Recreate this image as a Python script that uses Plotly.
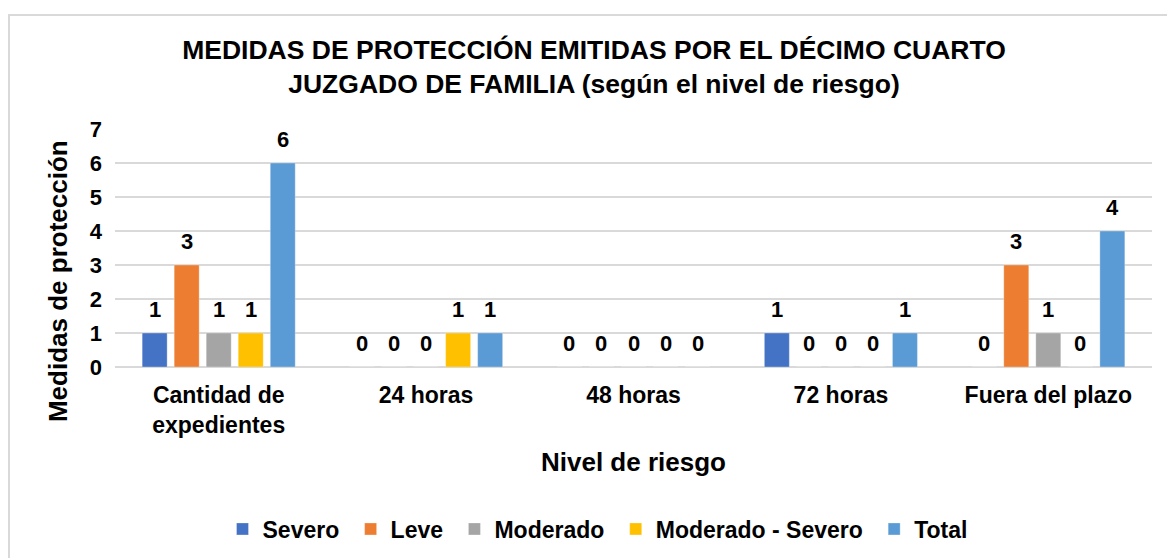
import plotly.graph_objects as go

categories = ["Cantidad de<br>expedientes", "24 horas", "48 horas", "72 horas", "Fuera del plazo"]
series_names = ["Severo", "Leve", "Moderado", "Moderado - Severo", "Total"]
severo = [1, 0, 0, 1, 0]
leve = [3, 0, 0, 0, 3]
moderado = [1, 0, 0, 0, 1]
moderado_severo = [1, 1, 0, 0, 0]
total = [6, 1, 0, 1, 4]
colors = ["#4472C4", "#ED7D31", "#A5A5A5", "#FFC000", "#5B9BD5"]
y_ticks = [0, 1, 2, 3, 4, 5, 6, 7]

title_text = "MEDIDAS DE PROTECCIÓN EMITIDAS POR EL DÉCIMO CUARTO<br>JUZGADO DE FAMILIA (según el nivel de riesgo)"
x_title = "Nivel de riesgo"
y_title = "Medidas de protección"

FONT = "Liberation Sans, Arial, sans-serif"
all_series = [severo, leve, moderado, moderado_severo, total]
xpos = list(range(len(categories)))
bargap = 0.228
bargroupgap = 0.22
n = len(all_series)
slot = (1 - bargap) / n

fig = go.Figure()
annotations = []
for i, (name, vals, col) in enumerate(zip(series_names, all_series, colors)):
    fig.add_trace(go.Bar(
        x=xpos, y=vals, name=f"<b>{name}</b>&nbsp;",
        marker=dict(color=col, line=dict(color="rgba(255,255,255,0.6)", width=0.5)),
        hoverinfo="y",
    ))
    for j, v in enumerate(vals):
        annotations.append(dict(
            x=j + (i - (n - 1) / 2) * slot, y=v, xref="x", yref="y",
            text=f"<b>{v}</b>", showarrow=False, yanchor="middle", yshift=24,
            font=dict(family=FONT, size=22, color="#000000"),
        ))

# axis titles
annotations.append(dict(
    x=0.5, y=-0.40, xref="paper", yref="paper", text=f"<b>{x_title}</b>",
    showarrow=False, xanchor="center", yanchor="middle",
    font=dict(family=FONT, size=26, color="#000000"),
))
annotations.append(dict(
    x=-0.055, y=0.361, xref="paper", yref="paper", text=f"<b>{y_title}</b>",
    showarrow=False, xanchor="center", yanchor="middle", textangle=-90,
    font=dict(family=FONT, size=26, color="#000000"),
))

fig.update_layout(
    width=1167, height=558,
    margin=dict(l=115, r=15, t=129, b=191),
    paper_bgcolor="white", plot_bgcolor="white",
    barmode="group", bargap=bargap, bargroupgap=bargroupgap,
    font=dict(family=FONT, color="#000000"),
    title=dict(
        text=f"<b>{title_text}</b>", x=594 / 1167, xanchor="center",
        y=1 - 59 / 558, yanchor="middle",
        font=dict(family=FONT, size=26.5, color="#000000"),
    ),
    legend=dict(
        orientation="h", x=601 / 1167, xanchor="center", xref="container",
        y=1 - 529 / 558, yanchor="middle", yref="container",
        font=dict(family=FONT, size=23, color="#000000"),
        traceorder="normal", itemclick=False,
    ),
    showlegend=True,
    annotations=annotations,
    shapes=[dict(
        type="rect", xref="paper", yref="paper",
        x0=(9 - 115) / 1037, x1=1.2, y0=-2, y1=(367 - 15) / 238,
        line=dict(color="#D9D9D9", width=2), fillcolor="rgba(0,0,0,0)", layer="below",
    )],
)

fig.update_xaxes(
    tickvals=xpos, ticktext=[f"<b>{c}</b>" for c in categories],
    range=[-0.5, len(categories) - 0.5],
    showgrid=False, zeroline=False, showline=False, ticks="",
    tickfont=dict(family=FONT, size=23, color="#000000"),
    ticklabelstandoff=12,
)
fig.update_yaxes(
    range=[0, 7], tickvals=y_ticks, ticktext=[f"<b>{t}</b>" for t in y_ticks],
    showgrid=True, gridcolor="#D9D9D9", gridwidth=1.5,
    zeroline=True, zerolinecolor="#D9D9D9", zerolinewidth=1.5,
    showline=False, ticks="",
    tickfont=dict(family=FONT, size=22, color="#000000"),
    ticklabelstandoff=12,
)

fig.write_html(
    "out.html",
    config={"displayModeBar": False},
    post_script="document.body.style.margin='0';document.body.style.padding='0';",
)
